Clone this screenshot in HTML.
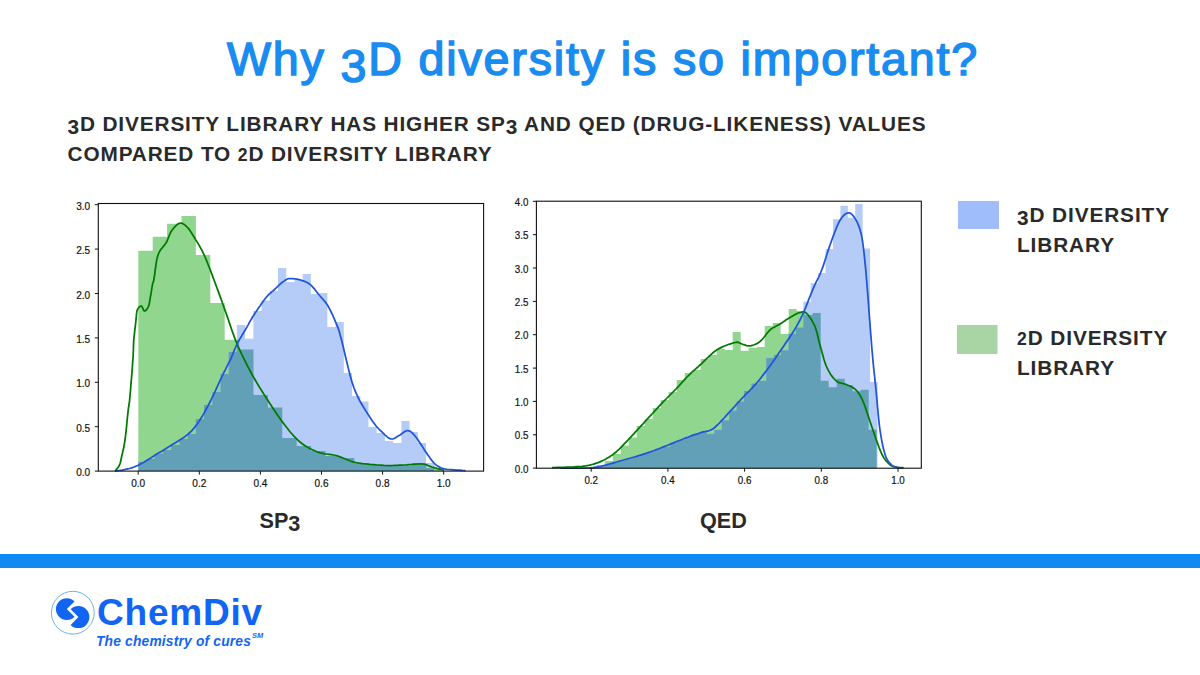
<!DOCTYPE html>
<html><head><meta charset="utf-8"><style>
html,body{margin:0;padding:0;background:#fff;width:1200px;height:675px;overflow:hidden}
svg{display:block}
text{font-family:"Liberation Sans",sans-serif}
.tk{font-size:11.8px;fill:#111;stroke:#111;stroke-width:0.2px}
.tk2{font-size:10.8px;fill:#111;stroke:#111;stroke-width:0.2px}
.title{font-size:46.6px;font-weight:normal;fill:#1A8BEF;stroke:#1A8BEF;stroke-width:1.5px;letter-spacing:1.84px}
.sub{font-size:20.8px;font-weight:bold;fill:#2A2A2A;letter-spacing:0.87px}
.leg{font-size:20.8px;font-weight:bold;fill:#2A2A2A;letter-spacing:0.9px}
.lab{font-size:21.6px;font-weight:bold;fill:#2A2A2A}
.logo{font-size:37px;font-weight:bold;fill:#1264F2;letter-spacing:0.8px}
.tag{font-size:13.8px;font-weight:bold;font-style:italic;fill:#1264F2;letter-spacing:0.18px}
.sm{font-size:7.4px;font-weight:bold;font-style:italic;fill:#1264F2}
</style></head><body>
<svg width="1200" height="675" viewBox="0 0 1200 675">
<path d="M138.30,471.10 L138.30,250.80 L152.70,250.80 L152.70,236.70 L167.10,236.70 L167.10,223.80 L181.50,223.80 L181.50,216.00 L195.90,216.00 L195.90,254.90 L210.30,254.90 L210.30,303.00 L224.70,303.00 L224.70,339.80 L239.10,339.80 L239.10,349.50 L253.50,349.50 L253.50,395.00 L267.90,395.00 L267.90,407.60 L282.30,407.60 L282.30,438.00 L296.70,438.00 L296.70,446.00 L311.10,446.00 L311.10,451.00 L325.50,451.00 L325.50,456.00 L339.90,456.00 L339.90,458.00 L354.30,458.00 L354.30,463.00 L368.70,463.00 L368.70,465.00 L383.10,465.00 L383.10,466.00 L397.50,466.00 L397.50,465.60 L411.90,465.60 L411.90,463.00 L426.30,463.00 L426.30,468.00 L440.70,468.00 L440.70,471.10 Z" fill="#90D68E"/>
<path d="M138.20,471.10 L138.20,462.00 L146.42,462.00 L146.42,459.00 L154.65,459.00 L154.65,453.60 L162.87,453.60 L162.87,450.00 L171.10,450.00 L171.10,445.00 L179.32,445.00 L179.32,439.00 L187.54,439.00 L187.54,434.00 L195.77,434.00 L195.77,419.00 L203.99,419.00 L203.99,405.00 L212.22,405.00 L212.22,392.00 L220.44,392.00 L220.44,374.00 L228.66,374.00 L228.66,352.00 L236.89,352.00 L236.89,325.00 L245.11,325.00 L245.11,338.80 L253.34,338.80 L253.34,311.00 L261.56,311.00 L261.56,300.40 L269.78,300.40 L269.78,291.00 L278.01,291.00 L278.01,268.00 L286.23,268.00 L286.23,282.00 L294.46,282.00 L294.46,280.00 L302.68,280.00 L302.68,274.00 L310.90,274.00 L310.90,294.00 L319.13,294.00 L319.13,293.00 L327.35,293.00 L327.35,327.00 L335.58,327.00 L335.58,322.00 L343.80,322.00 L343.80,373.00 L352.02,373.00 L352.02,396.00 L360.25,396.00 L360.25,401.60 L368.47,401.60 L368.47,427.00 L376.70,427.00 L376.70,433.00 L384.92,433.00 L384.92,441.00 L393.14,441.00 L393.14,443.00 L401.37,443.00 L401.37,421.00 L409.59,421.00 L409.59,432.00 L417.82,432.00 L417.82,443.00 L426.04,443.00 L426.04,463.00 L434.26,463.00 L434.26,471.10 Z" fill="#B5CCF8"/>
<path d="M138.20,471.10 L138.20,471.10 L138.30,471.10 L138.30,462.00 L146.42,462.00 L146.42,459.00 L152.70,459.00 L152.70,459.00 L154.65,459.00 L154.65,453.60 L162.87,453.60 L162.87,450.00 L167.10,450.00 L167.10,450.00 L171.10,450.00 L171.10,445.00 L179.32,445.00 L179.32,439.00 L181.50,439.00 L181.50,439.00 L187.54,439.00 L187.54,434.00 L195.77,434.00 L195.77,419.00 L195.90,419.00 L195.90,419.00 L203.99,419.00 L203.99,405.00 L210.30,405.00 L210.30,405.00 L212.22,405.00 L212.22,392.00 L220.44,392.00 L220.44,374.00 L224.70,374.00 L224.70,374.00 L228.66,374.00 L228.66,352.00 L236.89,352.00 L236.89,339.80 L239.10,339.80 L239.10,349.50 L245.11,349.50 L245.11,349.50 L253.34,349.50 L253.34,349.50 L253.50,349.50 L253.50,395.00 L261.56,395.00 L261.56,395.00 L267.90,395.00 L267.90,407.60 L269.78,407.60 L269.78,407.60 L278.01,407.60 L278.01,407.60 L282.30,407.60 L282.30,438.00 L286.23,438.00 L286.23,438.00 L294.46,438.00 L294.46,438.00 L296.70,438.00 L296.70,446.00 L302.68,446.00 L302.68,446.00 L310.90,446.00 L310.90,446.00 L311.10,446.00 L311.10,451.00 L319.13,451.00 L319.13,451.00 L325.50,451.00 L325.50,456.00 L327.35,456.00 L327.35,456.00 L335.58,456.00 L335.58,456.00 L339.90,456.00 L339.90,458.00 L343.80,458.00 L343.80,458.00 L352.02,458.00 L352.02,458.00 L354.30,458.00 L354.30,463.00 L360.25,463.00 L360.25,463.00 L368.47,463.00 L368.47,463.00 L368.70,463.00 L368.70,465.00 L376.70,465.00 L376.70,465.00 L383.10,465.00 L383.10,466.00 L384.92,466.00 L384.92,466.00 L393.14,466.00 L393.14,466.00 L397.50,466.00 L397.50,465.60 L401.37,465.60 L401.37,465.60 L409.59,465.60 L409.59,465.60 L411.90,465.60 L411.90,463.00 L417.82,463.00 L417.82,463.00 L426.04,463.00 L426.04,463.00 L426.30,463.00 L426.30,468.00 L434.26,468.00 L434.26,471.10 L440.70,471.10 L440.70,471.10 Z" fill="#62A0B8"/>
<path d="M115.0,471.0 L115.4,470.6 L115.9,470.0 L116.4,469.4 L117.1,468.6 L117.8,467.8 L118.4,466.9 L119.0,466.0 L119.5,465.0 L119.9,464.0 L120.3,462.9 L120.6,461.8 L120.8,460.6 L121.1,459.3 L121.4,457.9 L121.7,456.5 L122.0,455.0 L122.4,453.5 L122.7,451.9 L123.1,450.3 L123.5,448.6 L123.9,446.8 L124.2,444.8 L124.6,442.5 L125.0,440.0 L125.4,437.0 L125.8,433.6 L126.2,429.9 L126.6,426.1 L126.9,422.2 L127.3,418.5 L127.7,415.0 L128.0,412.0 L128.3,409.6 L128.5,407.7 L128.8,406.1 L129.0,404.6 L129.2,403.1 L129.5,401.3 L129.7,399.0 L130.0,396.0 L130.3,392.2 L130.7,387.6 L131.1,382.5 L131.6,377.1 L132.0,371.8 L132.4,366.6 L132.7,361.9 L133.0,358.0 L133.2,354.8 L133.3,352.1 L133.4,349.9 L133.4,347.9 L133.5,346.0 L133.6,344.2 L133.6,342.2 L133.8,340.0 L134.0,337.5 L134.3,334.9 L134.6,332.2 L134.9,329.5 L135.2,326.9 L135.5,324.3 L135.8,322.0 L136.0,320.0 L136.2,318.2 L136.3,316.7 L136.4,315.3 L136.5,314.0 L136.7,312.9 L136.8,311.8 L137.0,310.9 L137.3,310.0 L137.7,309.2 L138.1,308.4 L138.6,307.7 L139.2,307.1 L139.7,306.6 L140.3,306.2 L140.8,306.0 L141.3,306.0 L141.7,306.3 L142.1,306.8 L142.5,307.6 L142.9,308.5 L143.2,309.4 L143.6,310.2 L144.0,310.8 L144.4,311.0 L144.9,310.9 L145.4,310.7 L145.9,310.3 L146.5,309.7 L147.0,309.0 L147.5,308.3 L148.0,307.4 L148.4,306.5 L148.8,305.5 L149.1,304.3 L149.4,303.1 L149.6,301.7 L149.9,300.3 L150.1,298.9 L150.3,297.4 L150.6,296.0 L150.9,294.5 L151.1,292.9 L151.4,291.3 L151.6,289.7 L151.9,288.1 L152.1,286.5 L152.4,285.2 L152.6,284.0 L152.8,283.2 L152.9,282.7 L153.1,282.4 L153.2,282.2 L153.3,282.0 L153.5,281.4 L153.7,280.5 L154.0,279.0 L154.3,276.8 L154.7,274.1 L155.1,270.9 L155.6,267.5 L156.1,264.0 L156.6,260.6 L157.3,257.6 L158.0,255.0 L158.9,252.9 L159.8,251.0 L160.9,249.4 L162.1,248.0 L163.2,246.6 L164.3,245.3 L165.4,243.9 L166.3,242.5 L167.1,241.0 L167.7,239.5 L168.3,238.0 L168.9,236.5 L169.5,235.0 L170.1,233.6 L170.7,232.3 L171.5,231.0 L172.4,229.8 L173.4,228.5 L174.4,227.3 L175.5,226.1 L176.6,225.1 L177.6,224.2 L178.7,223.6 L179.7,223.2 L180.7,223.1 L181.6,223.2 L182.5,223.5 L183.4,224.0 L184.3,224.6 L185.2,225.3 L186.1,226.1 L187.0,227.0 L187.9,227.9 L188.7,228.9 L189.6,230.0 L190.4,231.2 L191.3,232.5 L192.2,234.0 L193.1,235.6 L194.2,237.3 L195.3,239.1 L196.5,241.1 L197.8,243.1 L199.1,245.3 L200.4,247.6 L201.8,250.2 L203.2,253.0 L204.6,256.0 L206.1,259.4 L207.6,263.2 L209.3,267.3 L210.9,271.6 L212.5,275.9 L214.1,280.2 L215.6,284.2 L217.0,288.0 L218.3,291.4 L219.4,294.6 L220.5,297.6 L221.6,300.5 L222.6,303.5 L223.7,306.5 L224.8,309.6 L226.0,313.0 L227.3,316.6 L228.6,320.5 L229.9,324.4 L231.3,328.5 L232.7,332.5 L234.2,336.6 L235.7,340.6 L237.3,344.5 L239.0,348.3 L240.7,352.1 L242.5,356.0 L244.4,359.7 L246.2,363.4 L248.1,367.1 L250.0,370.6 L251.8,374.0 L253.6,377.2 L255.4,380.3 L257.1,383.3 L258.9,386.2 L260.6,389.1 L262.5,392.0 L264.3,394.9 L266.3,398.0 L268.4,401.2 L270.5,404.5 L272.8,408.0 L275.1,411.4 L277.3,414.7 L279.6,418.0 L281.8,421.1 L284.0,424.0 L286.1,426.7 L288.1,429.2 L290.0,431.7 L292.0,434.0 L293.9,436.2 L295.9,438.2 L297.9,440.2 L300.0,442.0 L302.2,443.7 L304.4,445.3 L306.6,446.7 L308.9,448.0 L311.2,449.2 L313.5,450.3 L315.7,451.3 L318.0,452.2 L320.2,452.9 L322.5,453.4 L324.7,453.8 L326.9,454.0 L329.1,454.3 L331.4,454.6 L333.7,455.0 L336.0,455.5 L338.3,456.2 L340.7,457.1 L343.0,458.0 L345.4,459.0 L347.8,460.0 L350.4,461.0 L353.1,461.8 L356.0,462.5 L359.2,463.1 L362.6,463.6 L366.3,464.0 L370.0,464.4 L373.7,464.7 L377.4,465.0 L380.8,465.2 L384.0,465.4 L386.9,465.5 L389.6,465.5 L392.2,465.5 L394.6,465.4 L397.0,465.3 L399.3,465.2 L401.7,465.1 L404.0,465.0 L406.4,464.9 L408.8,464.7 L411.2,464.5 L413.6,464.3 L415.9,464.1 L418.1,464.0 L420.1,463.9 L422.0,464.0 L423.6,464.2 L425.0,464.5 L426.2,464.8 L427.4,465.2 L428.5,465.7 L429.5,466.1 L430.7,466.6 L432.0,467.0 L433.5,467.4 L435.1,467.9 L436.9,468.4 L438.6,468.8 L440.3,469.3 L441.8,469.7 L443.1,470.0 L444.0,470.3" fill="none" stroke="#007A00" stroke-width="1.75" stroke-linejoin="round"/>
<path d="M115.0,471.0 L115.8,470.9 L116.7,470.8 L117.9,470.7 L119.2,470.5 L120.6,470.3 L122.1,470.1 L123.6,469.8 L125.0,469.5 L126.4,469.2 L127.9,468.8 L129.3,468.5 L130.8,468.1 L132.4,467.6 L134.1,467.0 L135.8,466.3 L137.7,465.5 L139.7,464.5 L141.9,463.2 L144.3,461.9 L146.6,460.4 L149.1,458.9 L151.5,457.4 L153.8,456.0 L156.0,454.6 L158.1,453.3 L160.2,452.1 L162.2,450.9 L164.1,449.7 L166.1,448.5 L168.0,447.3 L170.0,446.1 L172.0,444.8 L174.1,443.5 L176.2,442.2 L178.3,440.9 L180.5,439.6 L182.6,438.2 L184.6,436.9 L186.5,435.4 L188.3,434.0 L189.9,432.5 L191.4,431.1 L192.7,429.6 L194.0,428.2 L195.2,426.6 L196.5,424.9 L197.7,423.2 L199.0,421.3 L200.3,419.3 L201.6,417.2 L202.9,415.1 L204.2,412.9 L205.5,410.5 L206.8,408.0 L208.2,405.3 L209.7,402.5 L211.3,399.3 L213.0,395.8 L214.8,392.1 L216.6,388.2 L218.3,384.4 L220.0,380.7 L221.6,377.3 L223.0,374.4 L224.2,371.9 L225.3,369.8 L226.2,367.9 L227.1,366.2 L227.9,364.6 L228.7,363.0 L229.6,361.4 L230.4,359.6 L231.3,357.7 L232.1,355.8 L232.9,353.8 L233.7,351.9 L234.4,349.9 L235.3,348.0 L236.1,346.1 L237.0,344.2 L237.9,342.4 L238.9,340.6 L239.9,338.8 L241.0,337.1 L242.0,335.3 L243.1,333.6 L244.1,331.8 L245.2,330.0 L246.2,328.2 L247.3,326.4 L248.3,324.6 L249.3,322.7 L250.3,320.9 L251.5,319.0 L252.6,317.0 L253.9,315.0 L255.3,312.8 L256.9,310.5 L258.5,308.1 L260.2,305.7 L261.8,303.3 L263.4,301.1 L264.9,299.0 L266.3,297.3 L267.5,295.9 L268.5,294.8 L269.5,293.8 L270.4,293.1 L271.2,292.3 L272.1,291.6 L273.0,290.9 L274.0,290.0 L275.1,289.0 L276.2,287.9 L277.3,286.8 L278.5,285.7 L279.6,284.6 L280.8,283.5 L281.9,282.6 L283.0,281.8 L284.0,281.1 L284.9,280.4 L285.7,279.9 L286.5,279.4 L287.4,279.0 L288.4,278.7 L289.6,278.5 L291.0,278.5 L292.7,278.6 L294.7,278.9 L296.9,279.2 L299.2,279.7 L301.6,280.3 L303.9,281.1 L306.1,282.0 L308.0,283.0 L309.8,284.2 L311.4,285.7 L313.0,287.4 L314.6,289.2 L316.0,291.0 L317.4,292.8 L318.7,294.5 L320.0,296.0 L321.2,297.3 L322.3,298.5 L323.3,299.7 L324.2,300.8 L325.2,301.9 L326.1,303.1 L327.0,304.4 L328.0,306.0 L329.0,307.8 L330.1,309.8 L331.1,312.0 L332.2,314.2 L333.2,316.5 L334.2,318.7 L335.1,320.9 L336.0,323.0 L336.7,324.7 L337.3,326.1 L337.7,327.2 L338.2,328.4 L338.7,329.9 L339.3,331.8 L340.0,334.5 L341.0,338.0 L342.2,342.7 L343.6,348.5 L345.1,355.0 L346.8,362.0 L348.5,369.1 L350.3,376.0 L352.1,382.4 L354.0,388.0 L356.0,392.9 L358.1,397.5 L360.3,401.8 L362.6,405.7 L364.9,409.4 L367.1,412.9 L369.1,416.0 L371.0,418.9 L372.7,421.4 L374.3,423.6 L375.7,425.5 L377.1,427.1 L378.4,428.5 L379.7,429.8 L380.9,431.0 L382.2,432.2 L383.4,433.4 L384.6,434.6 L385.8,435.6 L386.9,436.6 L387.9,437.4 L389.0,438.1 L390.1,438.6 L391.1,438.9 L392.1,439.0 L393.1,438.8 L394.1,438.5 L395.0,438.0 L395.9,437.4 L396.9,436.8 L397.9,436.2 L398.9,435.6 L400.0,435.0 L401.1,434.2 L402.2,433.4 L403.4,432.5 L404.5,431.7 L405.6,431.1 L406.7,430.7 L407.8,430.6 L408.8,430.8 L409.8,431.1 L410.7,431.6 L411.6,432.3 L412.5,433.2 L413.4,434.2 L414.5,435.4 L415.6,436.7 L416.9,438.3 L418.2,440.3 L419.7,442.5 L421.2,444.8 L422.7,447.1 L424.1,449.4 L425.5,451.5 L426.7,453.3 L427.8,454.9 L428.8,456.3 L429.8,457.7 L430.7,458.9 L431.5,460.1 L432.4,461.1 L433.2,462.1 L434.0,463.0 L434.8,463.8 L435.6,464.5 L436.3,465.1 L437.0,465.6 L437.7,466.1 L438.5,466.5 L439.2,466.9 L440.0,467.3 L440.7,467.7 L441.4,468.0 L442.0,468.2 L442.7,468.5 L443.5,468.7 L444.4,468.9 L445.6,469.1 L447.0,469.3 L448.9,469.5 L451.3,469.7 L453.9,469.9 L456.7,470.1 L459.5,470.2 L462.0,470.4 L464.1,470.5 L465.6,470.6" fill="none" stroke="#2154D8" stroke-width="1.75" stroke-linejoin="round"/>
<rect x="98.3" y="203.5" width="385.3" height="267.6" fill="none" stroke="#111" stroke-width="1.1"/>
<line x1="94.8" y1="471.1" x2="98.3" y2="471.1" stroke="#111" stroke-width="1"/>
<text x="90.2" y="476.1" text-anchor="end" class="tk" textLength="14" lengthAdjust="spacingAndGlyphs">0.0</text>
<line x1="94.8" y1="426.7" x2="98.3" y2="426.7" stroke="#111" stroke-width="1"/>
<text x="90.2" y="431.7" text-anchor="end" class="tk" textLength="14" lengthAdjust="spacingAndGlyphs">0.5</text>
<line x1="94.8" y1="382.3" x2="98.3" y2="382.3" stroke="#111" stroke-width="1"/>
<text x="90.2" y="387.3" text-anchor="end" class="tk" textLength="14" lengthAdjust="spacingAndGlyphs">1.0</text>
<line x1="94.8" y1="337.9" x2="98.3" y2="337.9" stroke="#111" stroke-width="1"/>
<text x="90.2" y="342.9" text-anchor="end" class="tk" textLength="14" lengthAdjust="spacingAndGlyphs">1.5</text>
<line x1="94.8" y1="293.5" x2="98.3" y2="293.5" stroke="#111" stroke-width="1"/>
<text x="90.2" y="298.5" text-anchor="end" class="tk" textLength="14" lengthAdjust="spacingAndGlyphs">2.0</text>
<line x1="94.8" y1="249.1" x2="98.3" y2="249.1" stroke="#111" stroke-width="1"/>
<text x="90.2" y="254.1" text-anchor="end" class="tk" textLength="14" lengthAdjust="spacingAndGlyphs">2.5</text>
<line x1="94.8" y1="204.7" x2="98.3" y2="204.7" stroke="#111" stroke-width="1"/>
<text x="90.2" y="209.7" text-anchor="end" class="tk" textLength="14" lengthAdjust="spacingAndGlyphs">3.0</text>
<line x1="138.2" y1="471.1" x2="138.2" y2="474.6" stroke="#111" stroke-width="1"/>
<text x="138.2" y="486.9" text-anchor="middle" class="tk" textLength="14" lengthAdjust="spacingAndGlyphs">0.0</text>
<line x1="199.3" y1="471.1" x2="199.3" y2="474.6" stroke="#111" stroke-width="1"/>
<text x="199.3" y="486.9" text-anchor="middle" class="tk" textLength="14" lengthAdjust="spacingAndGlyphs">0.2</text>
<line x1="260.4" y1="471.1" x2="260.4" y2="474.6" stroke="#111" stroke-width="1"/>
<text x="260.4" y="486.9" text-anchor="middle" class="tk" textLength="14" lengthAdjust="spacingAndGlyphs">0.4</text>
<line x1="321.5" y1="471.1" x2="321.5" y2="474.6" stroke="#111" stroke-width="1"/>
<text x="321.5" y="486.9" text-anchor="middle" class="tk" textLength="14" lengthAdjust="spacingAndGlyphs">0.6</text>
<line x1="382.6" y1="471.1" x2="382.6" y2="474.6" stroke="#111" stroke-width="1"/>
<text x="382.6" y="486.9" text-anchor="middle" class="tk" textLength="14" lengthAdjust="spacingAndGlyphs">0.8</text>
<line x1="443.7" y1="471.1" x2="443.7" y2="474.6" stroke="#111" stroke-width="1"/>
<text x="443.7" y="486.9" text-anchor="middle" class="tk" textLength="14" lengthAdjust="spacingAndGlyphs">1.0</text>
<path d="M588.70,468.20 L588.70,467.00 L596.70,467.00 L596.70,465.00 L604.70,465.00 L604.70,461.00 L612.70,461.00 L612.70,454.00 L620.70,454.00 L620.70,445.50 L628.70,445.50 L628.70,437.50 L636.70,437.50 L636.70,426.00 L644.70,426.00 L644.70,419.00 L652.70,419.00 L652.70,408.00 L660.70,408.00 L660.70,400.00 L668.70,400.00 L668.70,392.00 L676.70,392.00 L676.70,380.00 L684.70,380.00 L684.70,373.00 L692.70,373.00 L692.70,370.00 L700.70,370.00 L700.70,359.00 L708.70,359.00 L708.70,355.00 L716.70,355.00 L716.70,349.00 L724.70,349.00 L724.70,350.00 L732.70,350.00 L732.70,332.00 L740.70,332.00 L740.70,350.80 L748.70,350.80 L748.70,348.00 L756.70,348.00 L756.70,347.00 L764.70,347.00 L764.70,326.00 L772.70,326.00 L772.70,323.00 L780.70,323.00 L780.70,334.00 L788.70,334.00 L788.70,309.00 L796.70,309.00 L796.70,311.00 L804.70,311.00 L804.70,315.00 L812.70,315.00 L812.70,313.00 L820.70,313.00 L820.70,380.70 L828.70,380.70 L828.70,387.30 L836.70,387.30 L836.70,378.70 L844.70,378.70 L844.70,385.00 L852.70,385.00 L852.70,391.30 L860.70,391.30 L860.70,389.70 L868.70,389.70 L868.70,429.70 L876.70,429.70 L876.70,468.20 Z" fill="#90D68E"/>
<path d="M580.70,468.20 L580.70,468.04 L588.12,468.04 L588.12,467.60 L595.54,467.60 L595.54,466.58 L602.96,466.58 L602.96,464.86 L610.38,464.86 L610.38,462.71 L617.80,462.71 L617.80,460.59 L625.22,460.59 L625.22,458.53 L632.64,458.53 L632.64,456.39 L640.06,456.39 L640.06,454.09 L647.48,454.09 L647.48,451.57 L654.90,451.57 L654.90,448.80 L662.32,448.80 L662.32,447.00 L669.74,447.00 L669.74,442.87 L677.16,442.87 L677.16,439.88 L684.58,439.88 L684.58,436.70 L692.00,436.70 L692.00,434.00 L699.42,434.00 L699.42,432.00 L706.84,432.00 L706.84,433.80 L714.26,433.80 L714.26,429.70 L721.68,429.70 L721.68,420.30 L729.10,420.30 L729.10,410.40 L736.52,410.40 L736.52,401.60 L743.94,401.60 L743.94,391.00 L751.36,391.00 L751.36,383.50 L758.78,383.50 L758.78,380.70 L766.20,380.70 L766.20,358.10 L773.62,358.10 L773.62,355.00 L781.04,355.00 L781.04,350.30 L788.46,350.30 L788.46,333.80 L795.88,333.80 L795.88,327.40 L803.30,327.40 L803.30,301.70 L810.72,301.70 L810.72,283.30 L818.14,283.30 L818.14,273.00 L825.56,273.00 L825.56,248.90 L832.98,248.90 L832.98,219.30 L840.40,219.30 L840.40,205.70 L847.82,205.70 L847.82,217.70 L855.24,217.70 L855.24,204.00 L862.66,204.00 L862.66,248.60 L870.08,248.60 L870.08,382.00 L877.50,382.00 L877.50,468.20 Z" fill="#B5CCF8"/>
<path d="M580.70,468.20 L580.70,468.20 L588.12,468.20 L588.12,468.20 L588.70,468.20 L588.70,467.60 L595.54,467.60 L595.54,467.00 L596.70,467.00 L596.70,466.58 L602.96,466.58 L602.96,465.00 L604.70,465.00 L604.70,464.86 L610.38,464.86 L610.38,462.71 L612.70,462.71 L612.70,462.71 L617.80,462.71 L617.80,460.59 L620.70,460.59 L620.70,460.59 L625.22,460.59 L625.22,458.53 L628.70,458.53 L628.70,458.53 L632.64,458.53 L632.64,456.39 L636.70,456.39 L636.70,456.39 L640.06,456.39 L640.06,454.09 L644.70,454.09 L644.70,454.09 L647.48,454.09 L647.48,451.57 L652.70,451.57 L652.70,451.57 L654.90,451.57 L654.90,448.80 L660.70,448.80 L660.70,448.80 L662.32,448.80 L662.32,447.00 L668.70,447.00 L668.70,447.00 L669.74,447.00 L669.74,442.87 L676.70,442.87 L676.70,442.87 L677.16,442.87 L677.16,439.88 L684.58,439.88 L684.58,436.70 L684.70,436.70 L684.70,436.70 L692.00,436.70 L692.00,434.00 L692.70,434.00 L692.70,434.00 L699.42,434.00 L699.42,432.00 L700.70,432.00 L700.70,432.00 L706.84,432.00 L706.84,433.80 L708.70,433.80 L708.70,433.80 L714.26,433.80 L714.26,429.70 L716.70,429.70 L716.70,429.70 L721.68,429.70 L721.68,420.30 L724.70,420.30 L724.70,420.30 L729.10,420.30 L729.10,410.40 L732.70,410.40 L732.70,410.40 L736.52,410.40 L736.52,401.60 L740.70,401.60 L740.70,401.60 L743.94,401.60 L743.94,391.00 L748.70,391.00 L748.70,391.00 L751.36,391.00 L751.36,383.50 L756.70,383.50 L756.70,383.50 L758.78,383.50 L758.78,380.70 L764.70,380.70 L764.70,380.70 L766.20,380.70 L766.20,358.10 L772.70,358.10 L772.70,358.10 L773.62,358.10 L773.62,355.00 L780.70,355.00 L780.70,355.00 L781.04,355.00 L781.04,350.30 L788.46,350.30 L788.46,334.00 L788.70,334.00 L788.70,333.80 L795.88,333.80 L795.88,327.40 L796.70,327.40 L796.70,327.40 L803.30,327.40 L803.30,311.00 L804.70,311.00 L804.70,315.00 L810.72,315.00 L810.72,315.00 L812.70,315.00 L812.70,313.00 L818.14,313.00 L818.14,313.00 L820.70,313.00 L820.70,380.70 L825.56,380.70 L825.56,380.70 L828.70,380.70 L828.70,387.30 L832.98,387.30 L832.98,387.30 L836.70,387.30 L836.70,378.70 L840.40,378.70 L840.40,378.70 L844.70,378.70 L844.70,385.00 L847.82,385.00 L847.82,385.00 L852.70,385.00 L852.70,391.30 L855.24,391.30 L855.24,391.30 L860.70,391.30 L860.70,389.70 L862.66,389.70 L862.66,389.70 L868.70,389.70 L868.70,429.70 L870.08,429.70 L870.08,429.70 L876.70,429.70 L876.70,468.20 L877.50,468.20 L877.50,468.20 Z" fill="#62A0B8"/>
<path d="M552.0,467.6 L554.3,467.5 L557.4,467.4 L561.2,467.3 L565.2,467.2 L569.4,467.0 L573.5,466.9 L577.1,466.7 L580.0,466.5 L582.3,466.3 L584.1,466.1 L585.7,465.9 L587.0,465.7 L588.2,465.5 L589.4,465.2 L590.6,464.9 L592.0,464.5 L593.5,464.1 L595.0,463.6 L596.5,463.1 L598.0,462.6 L599.5,462.1 L601.0,461.4 L602.5,460.7 L604.0,460.0 L605.5,459.2 L607.0,458.3 L608.5,457.4 L610.0,456.5 L611.5,455.4 L613.0,454.4 L614.5,453.2 L616.0,452.0 L617.5,450.7 L619.0,449.3 L620.5,447.8 L622.0,446.3 L623.5,444.7 L625.0,443.2 L626.5,441.6 L628.0,440.0 L629.5,438.4 L631.0,436.8 L632.5,435.2 L634.0,433.6 L635.5,431.9 L637.0,430.3 L638.5,428.6 L640.0,427.0 L641.5,425.4 L643.0,423.8 L644.5,422.1 L646.0,420.5 L647.5,418.9 L649.0,417.2 L650.5,415.6 L652.0,414.0 L653.5,412.4 L655.0,410.7 L656.5,409.1 L658.0,407.4 L659.5,405.8 L661.0,404.2 L662.5,402.6 L664.0,401.0 L665.5,399.5 L667.0,398.0 L668.5,396.5 L670.0,395.0 L671.5,393.5 L673.0,392.0 L674.5,390.5 L676.0,389.0 L677.5,387.4 L679.0,385.8 L680.5,384.1 L682.0,382.4 L683.5,380.8 L685.0,379.1 L686.5,377.5 L688.0,376.0 L689.5,374.6 L690.9,373.2 L692.3,371.9 L693.7,370.6 L695.2,369.3 L696.7,368.0 L698.3,366.6 L700.0,365.0 L701.9,363.3 L703.8,361.4 L705.8,359.3 L708.0,357.3 L710.1,355.3 L712.3,353.3 L714.5,351.5 L716.7,350.0 L719.0,348.6 L721.4,347.4 L723.9,346.2 L726.5,345.2 L728.9,344.3 L731.2,343.6 L733.2,343.0 L735.0,342.5 L736.4,342.3 L737.5,342.2 L738.4,342.4 L739.1,342.7 L739.8,343.0 L740.4,343.4 L741.2,343.7 L742.0,344.0 L742.9,344.3 L743.9,344.6 L744.8,344.9 L745.8,345.3 L746.8,345.6 L747.8,345.8 L748.9,345.9 L750.0,345.8 L751.2,345.6 L752.4,345.3 L753.6,345.0 L754.9,344.5 L756.2,343.9 L757.5,343.2 L758.7,342.4 L760.0,341.5 L761.2,340.4 L762.5,339.0 L763.8,337.5 L765.0,335.9 L766.2,334.2 L767.5,332.7 L768.8,331.2 L770.0,330.0 L771.2,329.0 L772.5,328.1 L773.8,327.4 L775.0,326.7 L776.2,326.0 L777.5,325.4 L778.8,324.7 L780.0,324.0 L781.2,323.2 L782.5,322.4 L783.8,321.5 L785.0,320.7 L786.2,319.8 L787.5,319.0 L788.8,318.2 L790.0,317.5 L791.3,316.8 L792.6,316.0 L793.9,315.3 L795.2,314.5 L796.5,313.9 L797.7,313.3 L798.9,312.8 L800.0,312.5 L801.0,312.3 L801.9,312.0 L802.7,311.9 L803.5,311.9 L804.2,312.0 L805.0,312.3 L805.8,312.8 L806.7,313.5 L807.7,314.5 L808.7,315.8 L809.8,317.3 L811.0,319.0 L812.1,320.8 L813.1,322.8 L814.1,324.7 L815.0,326.7 L815.8,328.7 L816.4,330.8 L817.0,333.0 L817.6,335.3 L818.1,337.6 L818.7,340.0 L819.3,342.5 L820.0,345.0 L820.7,347.6 L821.5,350.4 L822.3,353.3 L823.1,356.3 L823.9,359.2 L824.8,362.0 L825.7,364.6 L826.7,367.0 L827.7,369.2 L828.8,371.2 L829.9,373.2 L831.1,375.0 L832.3,376.6 L833.5,378.2 L834.8,379.5 L836.0,380.7 L837.3,381.7 L838.6,382.4 L840.0,382.9 L841.4,383.2 L842.7,383.5 L844.1,383.8 L845.4,384.2 L846.7,384.7 L847.9,385.3 L849.2,385.8 L850.4,386.4 L851.6,386.9 L852.8,387.6 L853.9,388.3 L855.0,389.1 L856.0,390.0 L857.0,391.0 L857.9,392.1 L858.7,393.3 L859.5,394.5 L860.3,395.9 L861.1,397.3 L861.9,398.9 L862.7,400.7 L863.5,402.6 L864.4,404.8 L865.2,407.0 L866.0,409.4 L866.8,411.9 L867.6,414.4 L868.5,416.9 L869.3,419.3 L870.1,421.7 L871.0,424.2 L871.8,426.8 L872.7,429.3 L873.5,431.8 L874.4,434.3 L875.2,436.7 L876.0,439.0 L876.8,441.2 L877.6,443.4 L878.4,445.5 L879.1,447.6 L879.9,449.6 L880.7,451.5 L881.4,453.2 L882.2,454.8 L883.0,456.2 L883.7,457.5 L884.4,458.6 L885.2,459.7 L885.9,460.6 L886.6,461.4 L887.4,462.2 L888.1,463.0 L888.8,463.7 L889.5,464.3 L890.1,464.8 L890.8,465.3 L891.5,465.7 L892.3,466.1 L893.1,466.4 L894.0,466.7 L895.1,467.0 L896.4,467.2 L897.8,467.4 L899.2,467.5 L900.6,467.6 L901.9,467.7 L902.9,467.7 L903.7,467.8" fill="none" stroke="#007A00" stroke-width="1.75" stroke-linejoin="round"/>
<path d="M560.0,468.2 L562.7,468.2 L566.3,468.2 L570.6,468.2 L575.4,468.2 L580.3,468.1 L585.3,468.0 L589.9,467.8 L594.0,467.4 L597.6,466.9 L601.0,466.3 L604.2,465.5 L607.2,464.7 L610.3,463.8 L613.4,462.9 L616.6,462.0 L620.0,461.0 L623.5,460.0 L627.1,459.0 L630.7,458.0 L634.4,457.0 L638.2,455.8 L642.1,454.6 L646.0,453.4 L650.0,452.0 L654.3,450.5 L658.8,448.7 L663.5,446.9 L668.3,445.0 L672.9,443.1 L677.3,441.3 L681.4,439.7 L684.9,438.3 L687.9,437.2 L690.4,436.2 L692.7,435.4 L694.6,434.7 L696.4,434.1 L698.1,433.6 L699.8,433.0 L701.5,432.4 L703.2,431.9 L704.7,431.6 L706.1,431.4 L707.4,431.1 L708.8,430.8 L710.2,430.3 L711.7,429.6 L713.4,428.5 L715.3,427.0 L717.4,425.0 L719.6,422.8 L721.8,420.4 L724.1,418.0 L726.2,415.6 L728.2,413.4 L730.0,411.5 L731.5,409.9 L732.7,408.6 L733.8,407.4 L734.8,406.3 L735.8,405.1 L737.0,403.8 L738.3,402.3 L740.0,400.5 L742.0,398.4 L744.2,396.1 L746.6,393.7 L749.2,391.1 L751.8,388.3 L754.5,385.4 L757.3,382.3 L760.0,379.0 L762.8,375.4 L765.7,371.6 L768.8,367.4 L771.9,363.2 L774.9,358.9 L777.9,354.6 L780.7,350.5 L783.3,346.7 L785.7,343.1 L788.0,339.7 L790.2,336.5 L792.3,333.3 L794.3,330.1 L796.2,326.9 L798.1,323.5 L800.0,320.0 L801.9,316.2 L803.7,312.1 L805.5,307.9 L807.2,303.6 L808.8,299.4 L810.4,295.4 L811.9,291.7 L813.3,288.3 L814.6,285.4 L815.7,283.0 L816.8,280.8 L817.8,278.8 L818.8,276.8 L819.7,274.8 L820.7,272.5 L821.7,270.0 L822.8,267.1 L823.8,264.1 L824.8,260.9 L825.9,257.6 L826.9,254.2 L828.0,250.9 L829.1,247.6 L830.2,244.5 L831.3,241.4 L832.5,238.1 L833.7,234.9 L834.9,231.7 L836.1,228.6 L837.3,225.7 L838.5,223.2 L839.6,221.0 L840.7,219.2 L841.7,217.6 L842.8,216.4 L843.8,215.3 L844.7,214.5 L845.7,213.8 L846.6,213.3 L847.5,213.0 L848.4,212.8 L849.2,212.9 L849.9,213.1 L850.7,213.5 L851.4,214.0 L852.1,214.7 L852.9,215.5 L853.6,216.4 L854.4,217.4 L855.1,218.6 L855.9,219.9 L856.7,221.4 L857.5,222.9 L858.2,224.6 L858.9,226.3 L859.5,228.0 L860.1,229.7 L860.5,231.4 L861.0,233.0 L861.4,234.8 L861.8,236.8 L862.2,239.0 L862.6,241.5 L863.0,244.5 L863.4,247.7 L863.8,251.0 L864.2,254.5 L864.6,258.3 L865.0,262.6 L865.5,267.4 L866.0,272.8 L866.5,279.0 L867.1,286.3 L867.8,294.9 L868.5,304.3 L869.2,314.2 L870.0,324.0 L870.7,333.6 L871.4,342.4 L872.0,350.0 L872.6,356.5 L873.1,362.2 L873.6,367.3 L874.1,371.9 L874.6,376.4 L875.0,380.7 L875.5,385.2 L876.0,390.0 L876.5,395.1 L877.0,400.4 L877.4,405.7 L877.9,410.9 L878.4,416.1 L878.9,421.1 L879.4,425.7 L880.0,430.0 L880.6,433.9 L881.2,437.6 L881.8,441.1 L882.5,444.3 L883.1,447.3 L883.8,450.0 L884.5,452.5 L885.2,454.8 L885.9,456.8 L886.6,458.4 L887.4,459.8 L888.1,461.0 L888.9,462.0 L889.6,462.8 L890.4,463.6 L891.1,464.4 L891.8,465.1 L892.6,465.7 L893.3,466.1 L894.0,466.5 L894.8,466.7 L895.5,467.0 L896.3,467.2 L897.0,467.4 L897.8,467.6 L898.6,467.7 L899.5,467.8 L900.4,467.9 L901.2,467.9 L901.9,467.9 L902.5,468.0 L903.0,468.0" fill="none" stroke="#2154D8" stroke-width="1.75" stroke-linejoin="round"/>
<rect x="536.4" y="201.2" width="384.9" height="267.0" fill="none" stroke="#111" stroke-width="1.1"/>
<line x1="532.9" y1="468.1" x2="536.4" y2="468.1" stroke="#111" stroke-width="1"/>
<text x="528.4" y="472.6" text-anchor="end" class="tk2" textLength="13.6" lengthAdjust="spacingAndGlyphs">0.0</text>
<line x1="532.9" y1="434.8" x2="536.4" y2="434.8" stroke="#111" stroke-width="1"/>
<text x="528.4" y="439.2" text-anchor="end" class="tk2" textLength="13.6" lengthAdjust="spacingAndGlyphs">0.5</text>
<line x1="532.9" y1="401.4" x2="536.4" y2="401.4" stroke="#111" stroke-width="1"/>
<text x="528.4" y="405.9" text-anchor="end" class="tk2" textLength="13.6" lengthAdjust="spacingAndGlyphs">1.0</text>
<line x1="532.9" y1="368.1" x2="536.4" y2="368.1" stroke="#111" stroke-width="1"/>
<text x="528.4" y="372.6" text-anchor="end" class="tk2" textLength="13.6" lengthAdjust="spacingAndGlyphs">1.5</text>
<line x1="532.9" y1="334.7" x2="536.4" y2="334.7" stroke="#111" stroke-width="1"/>
<text x="528.4" y="339.2" text-anchor="end" class="tk2" textLength="13.6" lengthAdjust="spacingAndGlyphs">2.0</text>
<line x1="532.9" y1="301.4" x2="536.4" y2="301.4" stroke="#111" stroke-width="1"/>
<text x="528.4" y="305.9" text-anchor="end" class="tk2" textLength="13.6" lengthAdjust="spacingAndGlyphs">2.5</text>
<line x1="532.9" y1="268.0" x2="536.4" y2="268.0" stroke="#111" stroke-width="1"/>
<text x="528.4" y="272.5" text-anchor="end" class="tk2" textLength="13.6" lengthAdjust="spacingAndGlyphs">3.0</text>
<line x1="532.9" y1="234.7" x2="536.4" y2="234.7" stroke="#111" stroke-width="1"/>
<text x="528.4" y="239.2" text-anchor="end" class="tk2" textLength="13.6" lengthAdjust="spacingAndGlyphs">3.5</text>
<line x1="532.9" y1="201.3" x2="536.4" y2="201.3" stroke="#111" stroke-width="1"/>
<text x="528.4" y="205.8" text-anchor="end" class="tk2" textLength="13.6" lengthAdjust="spacingAndGlyphs">4.0</text>
<line x1="591.2" y1="468.2" x2="591.2" y2="471.7" stroke="#111" stroke-width="1"/>
<text x="591.2" y="483.8" text-anchor="middle" class="tk2" textLength="13.6" lengthAdjust="spacingAndGlyphs">0.2</text>
<line x1="667.9" y1="468.2" x2="667.9" y2="471.7" stroke="#111" stroke-width="1"/>
<text x="667.9" y="483.8" text-anchor="middle" class="tk2" textLength="13.6" lengthAdjust="spacingAndGlyphs">0.4</text>
<line x1="744.6" y1="468.2" x2="744.6" y2="471.7" stroke="#111" stroke-width="1"/>
<text x="744.6" y="483.8" text-anchor="middle" class="tk2" textLength="13.6" lengthAdjust="spacingAndGlyphs">0.6</text>
<line x1="821.3" y1="468.2" x2="821.3" y2="471.7" stroke="#111" stroke-width="1"/>
<text x="821.3" y="483.8" text-anchor="middle" class="tk2" textLength="13.6" lengthAdjust="spacingAndGlyphs">0.8</text>
<line x1="898.0" y1="468.2" x2="898.0" y2="471.7" stroke="#111" stroke-width="1"/>
<text x="898.0" y="483.8" text-anchor="middle" class="tk2" textLength="13.6" lengthAdjust="spacingAndGlyphs">1.0</text>
<text x="227" y="75" class="title">Why <tspan dy="7">3</tspan><tspan dy="-7">D diversity is so important?</tspan></text>
<text x="67.5" y="131" class="sub"><tspan dy="3">3</tspan><tspan dy="-3">D DIVERSITY LIBRARY HAS HIGHER SP</tspan><tspan dy="3">3</tspan><tspan dy="-3"> AND QED (DRUG-LIKENESS) VALUES</tspan></text>
<text x="67.5" y="161.3" class="sub">COMPARED TO <tspan style="font-size:17.6px">2</tspan>D DIVERSITY LIBRARY</text>
<rect x="958" y="201" width="41" height="28" fill="#9EBDFA"/>
<rect x="957" y="325" width="40.5" height="29" fill="#A9D4A3"/>
<text x="1017" y="222" class="leg"><tspan dy="3">3</tspan><tspan dy="-3">D DIVERSITY</tspan></text>
<text x="1017" y="252" class="leg">LIBRARY</text>
<text x="1017" y="344.7" class="leg"><tspan style="font-size:17.6px">2</tspan>D DIVERSITY</text>
<text x="1017" y="374.6" class="leg">LIBRARY</text>
<text x="259.5" y="527.7" class="lab">SP<tspan dy="3">3</tspan></text>
<text x="700" y="527.7" class="lab">QED</text>
<rect x="0" y="554" width="1200" height="14" fill="#0E8AF2"/>
<circle cx="72.8" cy="612.7" r="21.4" fill="none" stroke="#5DAAE8" stroke-width="0.9"/>
<path d="M66.80,609.10 L74.51,616.81 A10.90,10.90 0 1 1 74.51,601.39 Z" fill="#1264F2"/>
<path d="M78.40,617.10 L70.62,609.32 A11.00,11.00 0 1 1 70.62,624.88 Z" fill="#1264F2"/>
<text x="97" y="625" class="logo">ChemDiv</text>
<text x="96" y="646" class="tag">The chemistry of cures</text>
<text x="252" y="637.5" class="sm">SM</text>
</svg>
</body></html>
